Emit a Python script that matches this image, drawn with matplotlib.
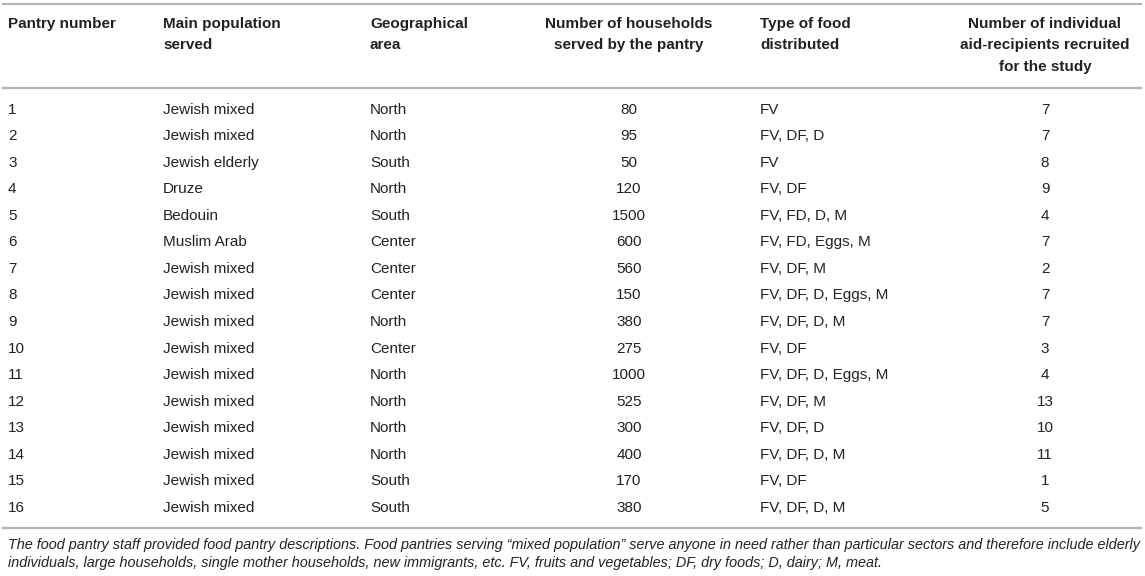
import matplotlib
matplotlib.use('Agg')
import matplotlib.pyplot as plt

plt.rcParams['font.family'] = ['Liberation Sans', 'DejaVu Sans']

headers = [
    ['Pantry number'],
    ['Main population', 'served'],
    ['Geographical', 'area'],
    ['Number of households', 'served by the pantry'],
    ['Type of food', 'distributed'],
    ['Number of individual', 'aid-recipients recruited', 'for the study'],
]
pantry = [str(i) for i in range(1, 17)]
population = ['Jewish mixed', 'Jewish mixed', 'Jewish elderly', 'Druze', 'Bedouin',
              'Muslim Arab', 'Jewish mixed', 'Jewish mixed', 'Jewish mixed', 'Jewish mixed',
              'Jewish mixed', 'Jewish mixed', 'Jewish mixed', 'Jewish mixed', 'Jewish mixed',
              'Jewish mixed']
area = ['North', 'North', 'South', 'North', 'South', 'Center', 'Center', 'Center',
        'North', 'Center', 'North', 'North', 'North', 'North', 'South', 'South']
households = [80, 95, 50, 120, 1500, 600, 560, 150, 380, 275, 1000, 525, 300, 400, 170, 380]
food = ['FV', 'FV, DF, D', 'FV', 'FV, DF', 'FV, FD, D, M', 'FV, FD, Eggs, M', 'FV, DF, M',
        'FV, DF, D, Eggs, M', 'FV, DF, D, M', 'FV, DF', 'FV, DF, D, Eggs, M', 'FV, DF, M',
        'FV, DF, D', 'FV, DF, D, M', 'FV, DF', 'FV, DF, D, M']
recruited = [7, 7, 8, 9, 4, 7, 2, 7, 7, 3, 4, 13, 10, 11, 1, 5]

footnote = [
    'The food pantry staff provided food pantry descriptions. Food pantries serving '
    '\u201cmixed population\u201d serve anyone in need rather than particular sectors '
    'and therefore include elderly',
    'individuals, large households, single mother households, new immigrants, etc. '
    'FV, fruits and vegetables; DF, dry foods; D, dairy; M, meat.',
]

W, H = 1145, 576
fig = plt.figure(figsize=(W / 100, H / 100), dpi=100)
ax = fig.add_axes([0, 0, 1, 1])
ax.set_xlim(0, W)
ax.set_ylim(H, 0)
ax.axis('off')

col_x = [8, 163, 370, 629, 760, 1045]
col_ha = ['left', 'left', 'left', 'center', 'left', 'center']
fs = 11
txt = '#222222'
rule = '#b4b4b4'

# rules
for y in (3.5, 87.5, 528):
    ax.plot([2, 1142], [y, y], color=rule, lw=1.6, solid_capstyle='butt')

# header
for x, ha, lines in zip(col_x, col_ha, headers):
    for k, line in enumerate(lines):
        ax.text(x, 24 + 21.3 * k, line, ha=ha, va='center', fontsize=fs,
                fontweight='bold', color=txt)

# body
y0, dy = 109.5, 26.57
for i in range(len(pantry)):
    y = y0 + i * dy
    row = [pantry[i], population[i], area[i], str(households[i]), food[i], str(recruited[i])]
    for x, ha, v in zip(col_x, col_ha, row):
        ax.text(x, y, v, ha=ha, va='center', fontsize=fs, color=txt)

for k, line in enumerate(footnote):
    ax.text(8, 545.5 + 18 * k, line, ha='left', va='center', fontsize=10.38,
            style='italic', color=txt)

fig.savefig('out.png', dpi=100)
